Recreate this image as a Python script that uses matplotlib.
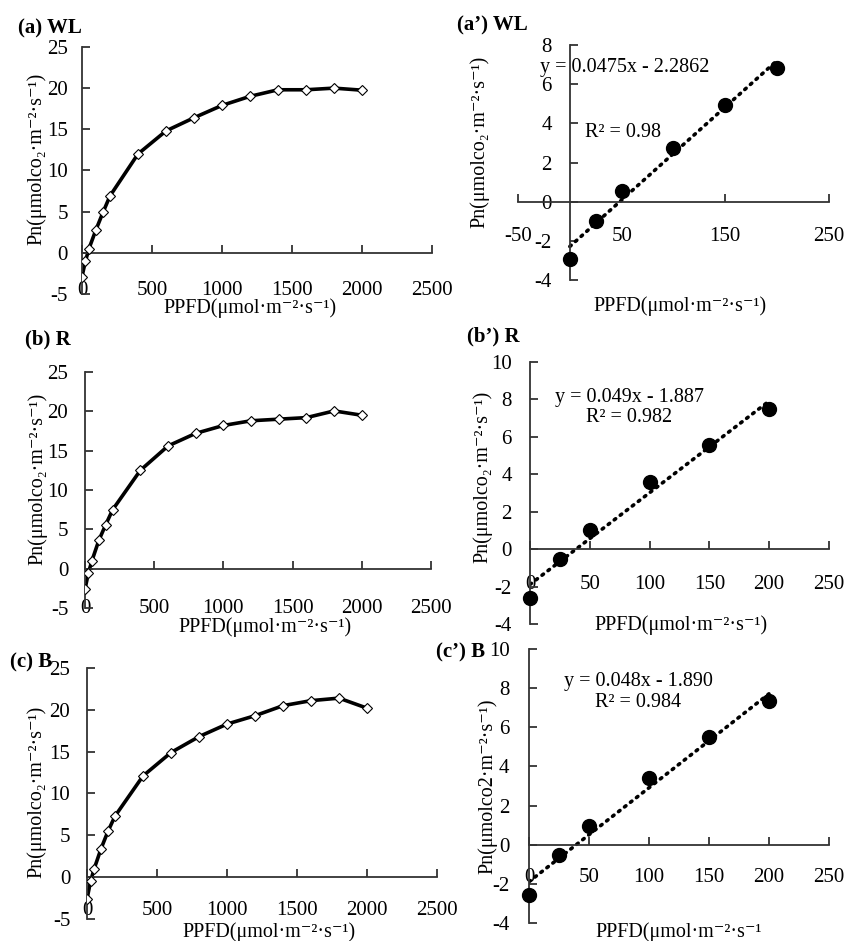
import matplotlib
matplotlib.use("Agg")
import matplotlib.pyplot as plt
import numpy as np

plt.rcParams['font.family'] = ['Liberation Serif', 'DejaVu Serif']
plt.rcParams['font.size'] = 15
plt.rcParams['axes.unicode_minus'] = False

# light response curves (left column)
ppfd = [0, 25, 50, 100, 150, 200, 400, 600, 800, 1000, 1200, 1400, 1600, 1800, 2000]
pn_wl = [-2.9, -1.0, 0.5, 2.8, 4.9, 6.9, 12.0, 14.8, 16.4, 17.9, 19.0, 19.8, 19.8, 20.0, 19.75]
pn_r = [-2.6, -0.5, 1.0, 3.6, 5.6, 7.5, 12.5, 15.6, 17.2, 18.2, 18.8, 19.0, 19.2, 20.05, 19.5]
pn_b = [-2.6, -0.5, 0.95, 3.4, 5.5, 7.3, 12.1, 14.9, 16.8, 18.3, 19.3, 20.5, 21.1, 21.4, 20.2]

# low-light part (right column)
low_ppfd = [0, 25, 50, 100, 150, 200]
low_wl = [-2.9, -1.0, 0.53, 2.73, 4.92, 6.85]
low_r = [-2.6, -0.52, 1.03, 3.6, 5.58, 7.5]
low_b = [-2.57, -0.53, 0.94, 3.42, 5.49, 7.34]

# trendline coefficients (slope, intercept) and labels
fits = [(0.0475, -2.2862), (0.049, -1.887), (0.048, -1.890)]
eq_text = ["y = 0.0475x - 2.2862", "y = 0.049x - 1.887", "y = 0.048x - 1.890"]
r2_text = ["R² = 0.98", "R² = 0.982", "R² = 0.984"]

titles_left = ["(a) WL", "(b) R", "(c) B"]
titles_right = ["(a’) WL", "(b’) R", "(c’) B"]

ylab = "Pn(μmolco₂·m⁻²·s⁻¹)"
ylab_c2 = "Pn(μmolco2·m⁻²·s⁻¹)"
xlab = "PPFD(μmol·m⁻²·s⁻¹)"
xlab_c2 = "PPFD(μmol·m⁻²·s⁻¹"

fig = plt.figure(figsize=(8.45, 9.41), dpi=100)

axc = '#333333'


def style(ax, xpad, ypad):
    ax.patch.set_visible(False)
    ax.spines['top'].set_visible(False)
    ax.spines['right'].set_visible(False)
    ax.spines['bottom'].set_position(('data', 0))
    ax.spines['left'].set_position(('data', 0))
    for s in ['bottom', 'left']:
        ax.spines[s].set_color(axc)
        ax.spines[s].set_linewidth(1.3)
    ax.tick_params(axis='x', direction='in', length=6, width=1.3, color=axc, pad=xpad)
    ax.tick_params(axis='y', direction='in', length=6, width=1.3, color=axc, pad=ypad)


def labels(ax, xl, xl_xy, yl, yl_xy):
    ax.set_ylabel(yl, fontsize=14.5, va='center')
    ax.yaxis.set_label_coords(*yl_xy)
    ax.set_xlabel(xl, fontsize=14.5, va='center')
    ax.xaxis.set_label_coords(*xl_xy)


# left column axes
left_pos = [[0.0970, 0.6876, 0.4142, 0.2625],
            [0.1006, 0.3539, 0.4095, 0.2508],
            [0.1030, 0.0234, 0.4142, 0.2667]]
left_xpad = [20, 21.5, 17]
left_ypad = [10, 12, 12]
left_ylab_xy = [(-0.129, 0.547), (-0.136, 0.547), (-0.143, 0.506)]
left_xlab_xy = [(0.48, -0.058), (0.52, -0.08), (0.52, -0.052)]
left_title_xy = [(0.0213, 0.970), (0.0296, 0.6387), (0.0118, 0.2965)]

for i, pn in enumerate([pn_wl, pn_r, pn_b]):
    ax = fig.add_axes(left_pos[i])
    ax.plot(ppfd, pn, color='black', lw=2.6, solid_joinstyle='round', zorder=2)
    ax.plot(ppfd, pn, ls='none', marker='D', ms=5.5, mfc='white', mec='black',
            mew=0.8, zorder=3)
    ax.set_xlim(0, 2500)
    ax.set_ylim(-5, 25)
    ax.set_xticks([0, 500, 1000, 1500, 2000, 2500])
    ax.set_yticks([-5, 0, 5, 10, 15, 20, 25])
    style(ax, left_xpad[i], left_ypad[i])
    labels(ax, xlab, left_xlab_xy[i], ylab, left_ylab_xy[i])
    fig.text(left_title_xy[i][0], left_title_xy[i][1], titles_left[i],
             fontweight='bold', fontsize=15, va='center', ha='left')

# right column axes
right_pos = [[0.6130, 0.7024, 0.3680, 0.2497],
             [0.6272, 0.3369, 0.3538, 0.2784],
             [0.6260, 0.0191, 0.3550, 0.2912]]
right_xlim = [(-50, 250), (0, 250), (0, 250)]
right_xticks = [[-50, 50, 150, 250], [0, 50, 100, 150, 200, 250], [0, 50, 100, 150, 200, 250]]
right_ylim = [(-4, 8), (-4, 10), (-4, 10)]
right_yticks = [[-4, -2, 0, 2, 4, 6, 8], [-4, -2, 0, 2, 4, 6, 8, 10], [-4, -2, 0, 2, 4, 6, 8, 10]]
right_xpad = [18, 18.5, 17]
right_ypad = [13, 13, 14]
right_ylab_xy = [(-0.122, 0.587), (-0.16, 0.56), (-0.137, 0.5)]
right_xlab_xy = [(0.52, -0.11), (0.505, -0.005), (0.50, -0.033)]
right_title_xy = [(0.541, 0.9734), (0.5527, 0.6419), (0.516, 0.3071)]
eq_xy = [(0.071, 0.906), (0.084, 0.866), (0.117, 0.88)]
r2_xy = [(0.215, 0.626), (0.187, 0.79), (0.22, 0.803)]
ylabs_right = [ylab, ylab, ylab_c2]
xlabs_right = [xlab, xlab, xlab_c2]

for i, pn in enumerate([low_wl, low_r, low_b]):
    ax = fig.add_axes(right_pos[i])
    a, b = fits[i]
    xs = np.array([low_ppfd[0], low_ppfd[-1]])
    ax.plot(xs, a * xs + b, color='black', lw=2.6, ls=(0, (0.5, 1.6)),
            dash_capstyle='round', zorder=2)
    ax.plot(low_ppfd, pn, ls='none', marker='o', ms=10, color='black', zorder=3,
            clip_on=False)
    ax.set_xlim(*right_xlim[i])
    ax.set_ylim(*right_ylim[i])
    ax.set_xticks(right_xticks[i])
    ax.set_yticks(right_yticks[i])
    style(ax, right_xpad[i], right_ypad[i])
    labels(ax, xlabs_right[i], right_xlab_xy[i], ylabs_right[i], right_ylab_xy[i])
    ax.text(eq_xy[i][0], eq_xy[i][1], eq_text[i], transform=ax.transAxes,
            ha='left', va='center', fontsize=14.5)
    ax.text(r2_xy[i][0], r2_xy[i][1], r2_text[i], transform=ax.transAxes,
            ha='left', va='center', fontsize=14.5)
    fig.text(right_title_xy[i][0], right_title_xy[i][1], titles_right[i],
             fontweight='bold', fontsize=15, va='center', ha='left')

fig.savefig('out.png', dpi=100)
